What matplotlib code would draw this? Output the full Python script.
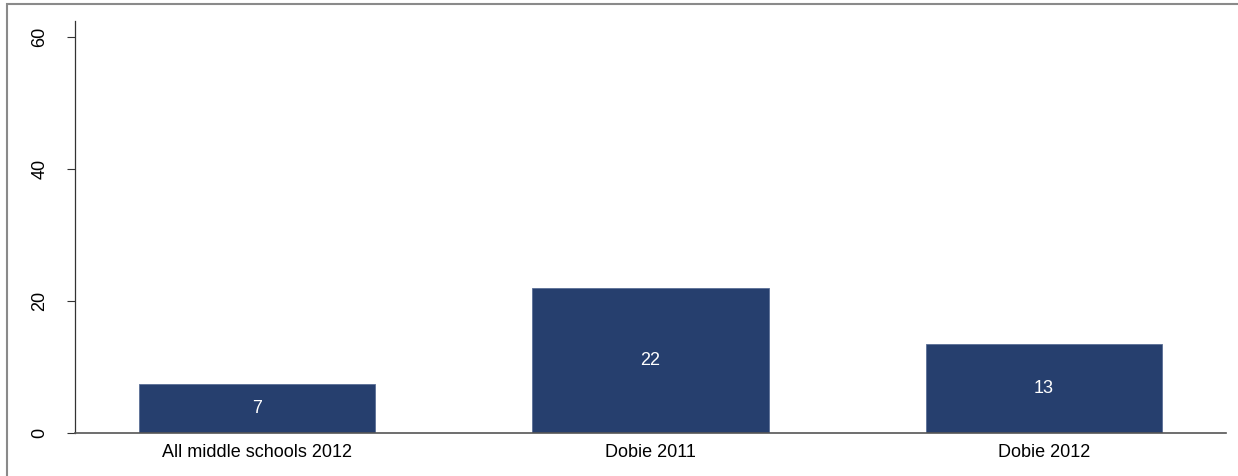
import matplotlib
matplotlib.use("Agg")
import matplotlib.pyplot as plt
from matplotlib.patches import Rectangle

categories = ["All middle schools 2012", "Dobie 2011", "Dobie 2012"]
values = [7.4, 21.9, 13.5]
bar_labels = ["7", "22", "13"]
yticks = [0, 20, 40, 60]

plt.rcParams['font.family'] = ['Liberation Sans', 'DejaVu Sans']

W, H = 1238, 476
fig = plt.figure(figsize=(W / 100, H / 100), dpi=100)
fig.patch.set_facecolor("white")

# outer frame (cropped at right and bottom)
fig.add_artist(Rectangle((7 / W, -0.1), 1.2, (H - 4) / H + 0.1, transform=fig.transFigure,
                         fill=False, edgecolor="#8a8a8a", linewidth=1.5))

ax = fig.add_axes([75 / W, (H - 433) / H, (1226 - 75) / W, (433 - 21) / H])
x = list(range(len(categories)))
bars = ax.bar(x, values, width=0.6, color="#263F6E", edgecolor="#5a6f96", linewidth=0.6)
for xi, v, lab in zip(x, values, bar_labels):
    ax.text(xi, v / 2, lab, color="white", ha="center", va="center", fontsize=13)

ax.set_xlim(-0.4625, 2.4625)
ax.set_ylim(0, 62.4)
ax.set_xticks(x)
ax.set_xticklabels(categories, fontsize=13)
ax.set_yticks(yticks)
ax.set_yticklabels([str(t) for t in yticks], fontsize=13, rotation=90, va="center")
ax.tick_params(axis="x", length=0, pad=8)
ax.tick_params(axis="y", length=6, width=0.8, color="#333333", pad=13)
for s in ["top", "right"]:
    ax.spines[s].set_visible(False)
ax.spines["left"].set_color("#333333")
ax.spines["bottom"].set_color("#555555")
ax.spines["left"].set_linewidth(0.9)
ax.spines["bottom"].set_linewidth(1.2)

fig.savefig("out.png", dpi=100)
